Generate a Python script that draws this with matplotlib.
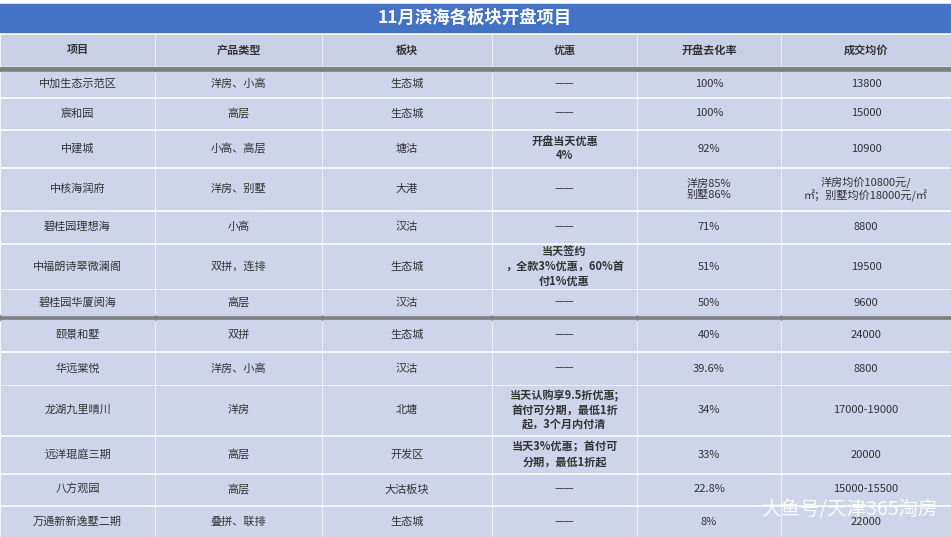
import matplotlib
matplotlib.use("Agg")
import matplotlib.pyplot as plt
from matplotlib.patches import Rectangle

plt.rcParams['font.family'] = ['Noto Sans CJK SC', 'DejaVu Sans']

title = "11月滨海各板块开盘项目"
headers = ["项目", "产品类型", "板块", "优惠", "开盘去化率", "成交均价"]
projects = ["中加生态示范区", "宸和园", "中建城", "中核海润府", "碧桂园理想海", "中福朗诗翠微澜阁",
            "碧桂园华厦阅海", "颐景和墅", "华远棠悦", "龙湖九里晴川", "远洋琨庭三期", "八方观园", "万通新新逸墅二期"]
types = ["洋房、小高", "高层", "小高、高层", "洋房、别墅", "小高", "双拼，连排", "高层", "双拼",
         "洋房、小高", "洋房", "高层", "高层", "叠拼、联排"]
areas = ["生态城", "生态城", "塘沽", "大港", "汉沽", "生态城", "汉沽", "生态城", "汉沽", "北塘",
         "开发区", "大沽板块", "生态城"]
offers = ["——", "——", "开盘当天优惠\n4%", "——", "——", "当天签约\n，全款3%优惠，60%首\n付1%优惠", "——",
          "——", "——", "当天认购享9.5折优惠;\n首付可分期，最低1折\n起，3个月内付清",
          "当天3%优惠；首付可\n分期，最低1折起", "——", "——"]
rates = ["100%", "100%", "92%", "洋房85%\n别墅86%", "71%", "51%", "50%", "40%", "39.6%", "34%",
         "33%", "22.8%", "8%"]
prices = ["13800", "15000", "10900", "洋房均价10800元/\n㎡；别墅均价18000元/㎡", "8800", "19500", "9600",
          "24000", "8800", "17000-19000", "20000", "15000-15500", "22000"]

col_edges = [0, 155, 322, 492, 637, 781, 951]
row_edges = [(72, 96), (99, 128), (131, 166), (169, 209), (212, 242), (245, 288), (290, 315),
             (320, 350), (353, 384), (386, 434), (437, 472), (475, 504), (507, 537)]
cell_bg = "#CED4E9"
txt = "#333333"

fig = plt.figure(figsize=(9.51, 5.37), dpi=100)
ax = fig.add_axes([0, 0, 1, 1])
ax.set_xlim(0, 951)
ax.set_ylim(537, 0)
ax.axis("off")

# title bar
ax.add_patch(Rectangle((0, 4), 951, 28, color="#4472C4"))
ax.text(475, 18, title, ha="center", va="center", color="white", fontsize=12.5, fontweight="bold")

# header row
for i, h in enumerate(headers):
    x0, x1 = col_edges[i], col_edges[i + 1]
    ax.add_patch(Rectangle((x0 + 1, 35), x1 - x0 - 2, 30, color="#C9D0E6"))
    ax.text((x0 + x1) / 2, 50, h, ha="center", va="center", color=txt, fontsize=8, fontweight="bold")

# separator lines
ax.add_patch(Rectangle((0, 67), 951, 4, color="#7F7F7F"))
ax.add_patch(Rectangle((0, 315), 951, 5, color="#7F7F7F"))

cols = [projects, types, areas, offers, rates, prices]
for r, (y0, y1) in enumerate(row_edges):
    for c in range(6):
        x0, x1 = col_edges[c], col_edges[c + 1]
        ax.add_patch(Rectangle((x0 + 1, y0), x1 - x0 - 2, y1 - y0, color=cell_bg))
        s = cols[c][r]
        bold = c == 3 and s != "——"
        ax.text((x0 + x1) / 2, (y0 + y1) / 2, s, ha="center", va="center", color=txt,
                fontsize=8, fontweight="bold" if bold else "normal", linespacing=1.15)

ax.text(938, 510, "大鱼号/天津365淘房", ha="right", va="center", color="white",
        fontsize=14, alpha=0.9)

fig.savefig("out.png", dpi=100)
